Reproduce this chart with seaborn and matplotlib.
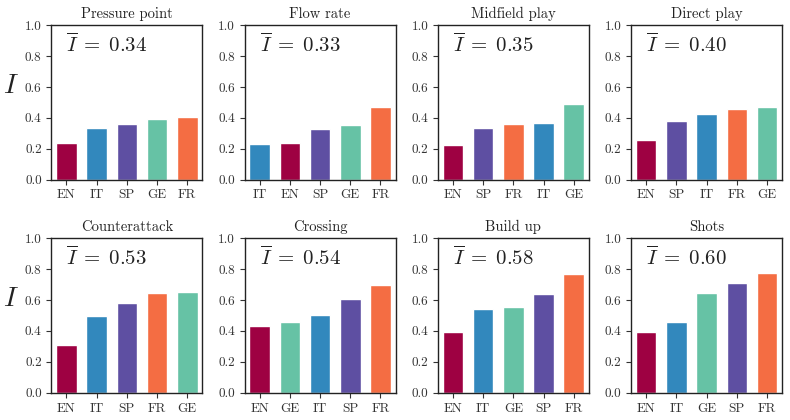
import matplotlib
matplotlib.use("Agg")
import matplotlib.pyplot as plt
import seaborn as sns
import pandas as pd

# per-panel league order (ascending) and values
titles = ["Pressure point", "Flow rate", "Midfield play", "Direct play",
          "Counterattack", "Crossing", "Build up", "Shots"]
means = [0.34, 0.33, 0.35, 0.40, 0.53, 0.54, 0.58, 0.60]

leagues_pressure = ["EN", "IT", "SP", "GE", "FR"]
values_pressure = [0.24, 0.337, 0.357, 0.395, 0.408]
leagues_flow = ["IT", "EN", "SP", "GE", "FR"]
values_flow = [0.233, 0.24, 0.33, 0.356, 0.473]
leagues_midfield = ["EN", "SP", "FR", "IT", "GE"]
values_midfield = [0.227, 0.337, 0.363, 0.369, 0.492]
leagues_direct = ["EN", "SP", "IT", "FR", "GE"]
values_direct = [0.259, 0.382, 0.428, 0.46, 0.473]
leagues_counter = ["EN", "IT", "SP", "FR", "GE"]
values_counter = [0.312, 0.494, 0.578, 0.643, 0.649]
leagues_crossing = ["EN", "GE", "IT", "SP", "FR"]
values_crossing = [0.429, 0.461, 0.506, 0.61, 0.695]
leagues_buildup = ["EN", "IT", "GE", "SP", "FR"]
values_buildup = [0.39, 0.545, 0.558, 0.636, 0.766]
leagues_shots = ["EN", "IT", "GE", "SP", "FR"]
values_shots = [0.396, 0.461, 0.643, 0.708, 0.773]

panels = [(leagues_pressure, values_pressure), (leagues_flow, values_flow),
          (leagues_midfield, values_midfield), (leagues_direct, values_direct),
          (leagues_counter, values_counter), (leagues_crossing, values_crossing),
          (leagues_buildup, values_buildup), (leagues_shots, values_shots)]

palette = {"EN": "#9e0142", "IT": "#3288bd", "SP": "#5e4fa2",
           "GE": "#66c2a5", "FR": "#f46d43"}

sns.set_style("ticks")
plt.rcParams["font.family"] = "serif"
plt.rcParams["font.serif"] = ["cmr10", "DejaVu Serif"]
plt.rcParams["mathtext.fontset"] = "cm"
plt.rcParams["axes.formatter.use_mathtext"] = True
plt.rcParams["axes.unicode_minus"] = False

fig, axes = plt.subplots(2, 4, figsize=(7.9, 4.2), dpi=100)
axes = axes.flatten()

for i, ax in enumerate(axes):
    leagues, vals = panels[i]
    df = pd.DataFrame({"league": leagues, "I": vals})
    sns.barplot(data=df, x="league", y="I", hue="league", order=leagues,
                palette=palette, width=0.68, legend=False, ax=ax, saturation=1)
    ax.set_ylim(0, 1.0)
    ax.set_xlim(-0.5, 4.5)
    ax.set_yticks([0, 0.2, 0.4, 0.6, 0.8, 1.0])
    ax.set_yticklabels(["0.0", "0.2", "0.4", "0.6", "0.8", "1.0"])
    ax.set_title(titles[i], fontsize=10.5, color="#222222", pad=5)
    ax.set_xlabel("")
    ax.text(0.1, 0.83, r"$\overline{I}\;=\;%.2f$" % means[i], transform=ax.transAxes,
            fontsize=15, color="#222222")
    ax.tick_params(labelsize=9.5, colors="#333333", direction="out", length=3.5)
    for s in ax.spines.values():
        s.set_color("#222222")
        s.set_linewidth(1.0)
    if i % 4 == 0:
        ax.set_ylabel(r"$I$", fontsize=20, rotation=0, labelpad=12, color="#222222")
        ax.yaxis.set_label_coords(-0.27, 0.52)
    else:
        ax.set_ylabel("")

plt.subplots_adjust(left=0.065, right=0.99, top=0.94, bottom=0.065,
                    wspace=0.28, hspace=0.38)
plt.savefig("out.png", dpi=100)
